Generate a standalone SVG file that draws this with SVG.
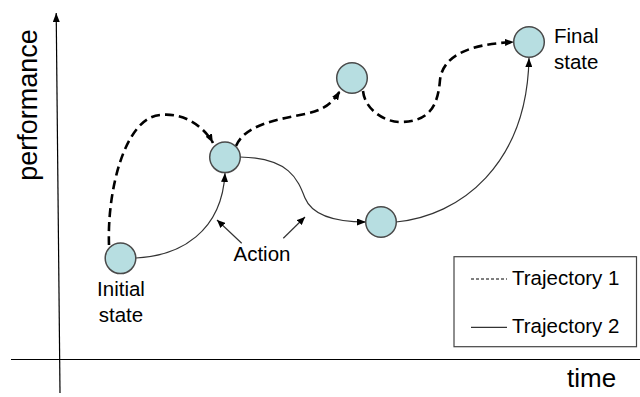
<svg xmlns="http://www.w3.org/2000/svg" width="640" height="397" viewBox="0 0 640 397">
<style>
  text { font-family: "Liberation Sans", Arial, sans-serif; fill: #000; }
  .lbl { font-size: 20.5px; }
  .node { fill: #b7dee1; stroke: #4a4a4a; stroke-width: 1.5; }
  .solid { fill: none; stroke: #333; stroke-width: 1.2; }
  .dash { fill: none; stroke: #000; stroke-width: 2.6; stroke-dasharray: 9 5; }
  .axis { fill: none; stroke: #000; stroke-width: 1.2; }
</style>
<defs>
  <marker id="ah" viewBox="0 0 10 10" refX="10" refY="5" markerWidth="9" markerHeight="7" markerUnits="userSpaceOnUse" orient="auto" preserveAspectRatio="none">
    <path d="M0,0 L10,5 L0,10 z" fill="#000"/>
  </marker>
  <marker id="ahs" viewBox="0 0 10 10" refX="10" refY="5" markerWidth="8" markerHeight="7" markerUnits="userSpaceOnUse" orient="auto" preserveAspectRatio="none">
    <path d="M0,0 L10,5 L0,10 z" fill="#000"/>
  </marker>
</defs>

<g id="axes">
  <line class="axis" x1="60" y1="393" x2="56.2" y2="13" marker-end="url(#ah)"/>
  <line class="axis" x1="11" y1="359.5" x2="640" y2="359.5"/>
  <text x="37" y="105" font-size="27" text-anchor="middle" transform="rotate(-90 37 105)">performance</text>
  <text x="567" y="387" font-size="26">time</text>
</g>

<g id="connectors">
  <path class="solid" d="M136,258 C180,256 222,232 225,173" marker-end="url(#ah)"/>
  <path class="solid" d="M240,157 C290,158 298,180 305,198 C312,215 335,222 366,222" marker-end="url(#ah)"/>
  <path class="solid" d="M396,222 C460,216 527,165 529,58" marker-end="url(#ah)"/>
  <path class="dash" d="M109,245 C107,190 125,118 160,115 C185,112 205,128 213,143" marker-end="url(#ah)"/>
  <path class="dash" d="M236,146 C245,125 275,120 305,114 C325,110 333,102 340,91" marker-end="url(#ah)"/>
  <path class="dash" d="M363,91 C365,110 385,122 400,122 C430,122 438,105 440,80 C443,55 470,44 514,42" marker-end="url(#ah)"/>
  <line class="solid" x1="241.7" y1="243.3" x2="217" y2="220" marker-end="url(#ahs)"/>
  <line class="solid" x1="283.3" y1="238.3" x2="305" y2="217" marker-end="url(#ahs)"/>
</g>

<g id="initial">
  <circle class="node" cx="120.5" cy="258.3" r="15.3"/>
  <text class="lbl" x="121" y="296.3" text-anchor="middle">Initial</text>
  <text class="lbl" x="121" y="322.3" text-anchor="middle">state</text>
</g>
<g id="n2">
  <circle class="node" cx="225" cy="157.3" r="15.3"/>
</g>
<g id="n3">
  <circle class="node" cx="352" cy="78" r="15.3"/>
</g>
<g id="n4">
  <circle class="node" cx="381" cy="222" r="15.3"/>
</g>
<g id="final">
  <circle class="node" cx="529" cy="42" r="15.3"/>
  <text class="lbl" x="554" y="43.3">Final</text>
  <text class="lbl" x="554" y="69.3">state</text>
</g>
<g id="action">
  <text class="lbl" x="262" y="260.5" text-anchor="middle">Action</text>
</g>
<g id="legend">
  <rect x="454" y="256.7" width="182.5" height="90" fill="#fff" stroke="#444" stroke-width="1.2"/>
  <line x1="471" y1="279" x2="507" y2="279" stroke="#000" stroke-width="1" stroke-dasharray="3 2"/>
  <text class="lbl" x="512" y="285">Trajectory 1</text>
  <line x1="471" y1="327.3" x2="507" y2="327.3" stroke="#000" stroke-width="1"/>
  <text class="lbl" x="512" y="333.3">Trajectory 2</text>
</g>
</svg>
